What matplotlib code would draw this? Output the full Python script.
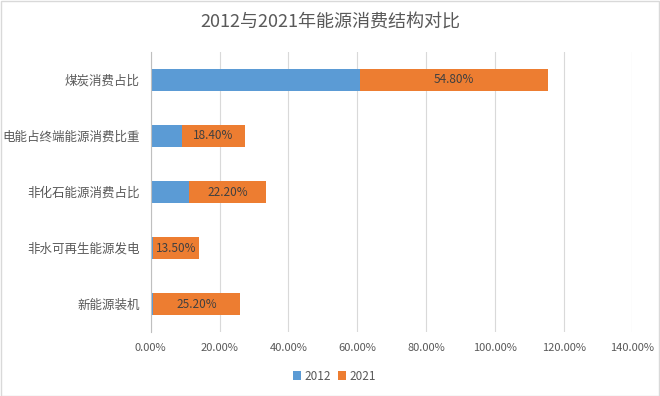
import numpy as np
import matplotlib.pyplot as plt
from matplotlib.ticker import FuncFormatter

plt.rcParams['font.family'] = ['Noto Sans CJK SC', 'DejaVu Sans']

categories = ["煤炭消费占比", "电能占终端能源消费比重", "非化石能源消费占比",
              "非水可再生能源发电", "新能源装机"]
v2012 = [60.7, 9.0, 11.2, 0.6, 0.8]
v2021 = [54.8, 18.4, 22.2, 13.5, 25.2]
xticks = [0, 20, 40, 60, 80, 100, 120, 140]

blue = "#5B9BD5"
orange = "#ED7D31"
grid_c = "#D9D9D9"
txt_c = "#595959"

fig = plt.figure(figsize=(6.6, 3.96), dpi=100)
ax = fig.add_axes([0.2283, 0.1616, 0.730, 0.7071])

y = np.arange(len(categories))
ax.barh(y, v2012, height=0.39, color=blue, label="2012", zorder=3)
bars = ax.barh(y, v2021, left=v2012, height=0.39, color=orange, label="2021", zorder=3)
ax.bar_label(bars, labels=[f"{v:.2f}%" for v in v2021], label_type="center",
             fontsize=8.5, color="#404040")

ax.set_ylim(len(categories) - 0.5, -0.5)
ax.set_xlim(0, 140)
ax.set_yticks(y)
ax.set_yticklabels(categories, fontsize=9, color=txt_c)
ax.set_xticks(xticks)
ax.xaxis.set_major_formatter(FuncFormatter(lambda v, p: f"{v:.2f}%"))
ax.tick_params(axis="x", labelsize=8, colors=txt_c, length=0, pad=8)
ax.tick_params(axis="y", length=0, pad=8)
ax.grid(axis="x", color=grid_c, linewidth=0.8, zorder=0)
for s in ["top", "right", "bottom"]:
    ax.spines[s].set_visible(False)
ax.spines["left"].set_color("#BFBFBF")
ax.spines["left"].set_zorder(4)

fig.text(0.5, 0.944, "2012与2021年能源消费结构对比", ha="center", va="center",
         fontsize=13, color=txt_c)
fig.legend(loc="center", bbox_to_anchor=(0.507, 0.05), ncol=2, frameon=False,
           fontsize=8.5, handlelength=0.7, handleheight=0.7, handletextpad=0.3,
           columnspacing=0.6, labelcolor=txt_c)

fig.patches.append(plt.Rectangle((0.001, 0.001), 0.997, 0.997, transform=fig.transFigure,
                                 fill=False, edgecolor=grid_c, linewidth=1))

fig.savefig("out.png", dpi=100)
